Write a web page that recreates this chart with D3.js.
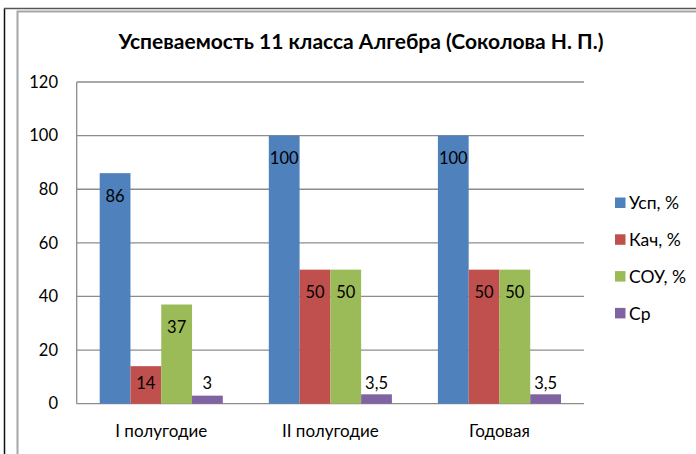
<!DOCTYPE html>
<html>
<head>
<meta charset="utf-8">
<script src="https://cdn.jsdelivr.net/npm/d3@7"></script>
<style>
  body { margin: 0; background: #fff; }
  svg { display: block; }
  text { font-family: Lato, "Open Sans", sans-serif; fill: #000; }
</style>
</head>
<body>
<svg id="chart" width="696" height="454"></svg>
<script>
// data
const categories = ["I полугодие", "II полугодие", "Годовая"];
const seriesNames = ["Усп, %", "Кач, %", "СОУ, %", "Ср"];
const seriesColors = ["#4F81BD", "#C0504D", "#9BBB59", "#8064A2"];
const uspValues = [86, 100, 100];
const kachValues = [14, 50, 50];
const souValues = [37, 50, 50];
const srValues = [3, 3.5, 3.5];
const yTicks = [0, 20, 40, 60, 80, 100, 120];

const seriesValues = [uspValues, kachValues, souValues, srValues];

const svg = d3.select("#chart");

// outer frame lines
svg.append("line").attr("x1", 4.5).attr("x2", 4.5).attr("y1", 8.5).attr("y2", 454)
  .attr("stroke", "#111").attr("stroke-width", 1.5);
svg.append("line").attr("x1", 4).attr("x2", 696).attr("y1", 8.5).attr("y2", 8.5)
  .attr("stroke", "#555").attr("stroke-width", 1.5);
svg.append("path").attr("d", "M17.5,460 V11.5 H700")
  .attr("fill", "none").attr("stroke", "#a6a6a6").attr("stroke-width", 2);

// title
svg.append("text")
  .attr("x", 361).attr("y", 49)
  .attr("text-anchor", "middle")
  .attr("font-size", "21px")
  .attr("font-weight", "bold")
  .text("Успеваемость 11 класса Алгебра (Соколова Н. П.)");

// scales
const plot = { left: 76.7, right: 584, top: 82, bottom: 403.7 };

const x0 = d3.scaleBand()
  .domain(categories)
  .range([plot.left, plot.right])
  .paddingInner(0.272)
  .paddingOuter(0.136);

const x1 = d3.scaleBand()
  .domain(d3.range(seriesNames.length))
  .range([0, x0.bandwidth()]);

const y = d3.scaleLinear().domain([0, 120]).range([plot.bottom, plot.top]);

// gridlines
svg.append("g").selectAll("line")
  .data(yTicks)
  .join("line")
  .attr("x1", plot.left).attr("x2", plot.right)
  .attr("y1", d => y(d)).attr("y2", d => y(d))
  .attr("stroke", "#8c8c8c").attr("stroke-width", 1.3);

// left axis line
svg.append("line")
  .attr("x1", plot.left).attr("x2", plot.left)
  .attr("y1", plot.top).attr("y2", plot.bottom)
  .attr("stroke", "#8c8c8c").attr("stroke-width", 1.3);

// y tick labels
svg.append("g").selectAll("text")
  .data(yTicks)
  .join("text")
  .attr("x", 58).attr("y", d => y(d))
  .attr("dy", "0.35em")
  .attr("text-anchor", "end")
  .attr("font-size", "16.5px")
  .text(d => d);

// x labels
svg.append("g").selectAll("text")
  .data(categories)
  .join("text")
  .attr("x", d => x0(d) + x0.bandwidth() / 2)
  .attr("y", 437)
  .attr("text-anchor", "middle")
  .attr("font-size", "17px")
  .text(d => d);

// bars
const groups = svg.append("g").selectAll("g")
  .data(categories)
  .join("g")
  .attr("transform", d => `translate(${x0(d)},0)`);

groups.selectAll("rect")
  .data((c, i) => seriesValues.map((vals, s) => ({ s, v: vals[i] })))
  .join("rect")
  .attr("x", d => x1(d.s))
  .attr("width", x1.bandwidth())
  .attr("y", d => y(d.v))
  .attr("height", d => y(0) - y(d.v))
  .attr("fill", d => seriesColors[d.s]);

// data labels
const fmt = v => String(v).replace(".", ",");
groups.selectAll("text")
  .data((c, i) => seriesValues.map((vals, s) => ({ s, v: vals[i] })))
  .join("text")
  .attr("x", d => x1(d.s) + x1.bandwidth() / 2)
  .attr("y", d => Math.min(y(d.v) + 23, 383.5))
  .attr("dy", "0.35em")
  .attr("text-anchor", "middle")
  .attr("font-size", "16.5px")
  .text(d => fmt(d.v));

// legend
const legend = svg.append("g").attr("transform", "translate(615,203)");
const items = legend.selectAll("g")
  .data(seriesNames)
  .join("g")
  .attr("transform", (d, i) => `translate(0,${i * 36.8})`);
items.append("rect")
  .attr("x", 0).attr("y", -5.5)
  .attr("width", 10.5).attr("height", 10.5)
  .attr("fill", (d, i) => seriesColors[i]);
items.append("text")
  .attr("x", 14).attr("y", 0)
  .attr("dy", "0.35em")
  .attr("font-size", "17.5px")
  .text(d => d);
</script>
</body>
</html>
